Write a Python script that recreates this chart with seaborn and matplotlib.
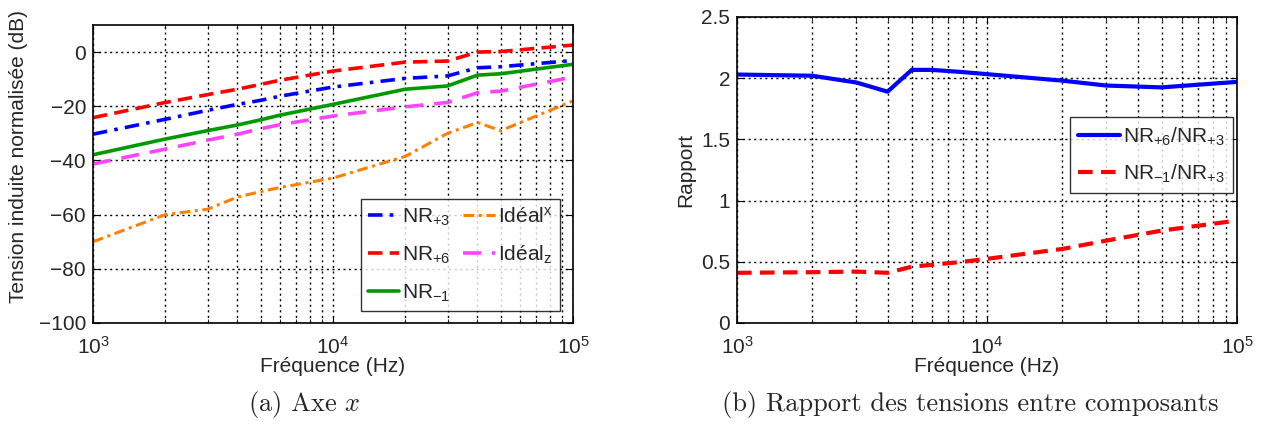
import matplotlib
matplotlib.use("Agg")
import matplotlib.pyplot as plt
import matplotlib.ticker as mticker
import seaborn as sns

# Data
freq = [1e3, 2e3, 3e3, 4e3, 5e3, 6e3, 1e4, 2e4, 3e4, 4e4, 5e4, 1e5]
nr_p3 = [-30.3, -24.8, -21.5, -19.3, -17.8, -16.3, -12.9, -9.7, -8.8, -5.8, -5.4, -3.1]
nr_p6 = [-24.2, -18.6, -15.7, -13.7, -11.9, -10.4, -7.0, -3.7, -3.3, 0.0, 0.2, 2.6]
nr_m1 = [-37.9, -32.1, -29.0, -26.9, -25.0, -23.3, -19.3, -13.7, -12.5, -8.5, -8.0, -4.5]
ideal_z = [-41.3, -35.8, -32.5, -30.3, -28.3, -26.8, -23.6, -20.2, -18.6, -15.0, -14.4, -9.2]
ideal_x = [-70.0, -60.0, -58.0, -53.5, -51.5, -50.0, -46.5, -38.5, -30.0, -26.0, -29.0, -18.0]

freq_r = [1e3, 2e3, 3e3, 4e3, 5e3, 6e3, 8e3, 1e4, 2e4, 3e4, 5e4, 1e5]
ratio_p6_p3 = [2.03, 2.02, 1.965, 1.89, 2.068, 2.068, 2.05, 2.033, 1.98, 1.94, 1.925, 1.97]
ratio_m1_p3 = [0.41, 0.415, 0.42, 0.41, 0.46, 0.475, 0.50, 0.524, 0.605, 0.673, 0.755, 0.837]

sns.set_style("ticks")
plt.rcParams['font.family'] = ['Liberation Sans', 'DejaVu Sans']
plt.rcParams['mathtext.fontset'] = 'custom'
plt.rcParams['mathtext.rm'] = 'Liberation Sans'
plt.rcParams['mathtext.it'] = 'Liberation Sans:italic'
plt.rcParams['mathtext.bf'] = 'Liberation Sans:bold'
plt.rcParams['font.size'] = 15

fig = plt.figure(figsize=(12.64, 4.25), dpi=100)
ax1 = fig.add_axes([93 / 1264, 1 - 323 / 425, 480 / 1264, 298 / 425])
ax2 = fig.add_axes([737 / 1264, 1 - 323 / 425, 500 / 1264, 306 / 425])


def style_axis(ax):
    ax.set_xscale('log')
    ax.set_xlim(1e3, 1e5)
    ax.xaxis.set_major_locator(mticker.LogLocator(base=10))
    ax.xaxis.set_minor_locator(mticker.LogLocator(base=10, subs=range(2, 10)))
    ax.xaxis.set_minor_formatter(mticker.NullFormatter())
    ax.grid(True, which='major', axis='both', color='black', linestyle=(0, (1.5, 2.5)), linewidth=1.0)
    ax.grid(True, which='minor', axis='x', color='black', linestyle=(0, (1.5, 2.5)), linewidth=1.0)
    ax.tick_params(which='both', direction='in', top=True, right=True, labelsize=15, color='black')
    ax.tick_params(which='major', length=5)
    ax.tick_params(which='minor', length=3)
    ax.tick_params(axis='x', which='major', pad=9)
    ax.tick_params(axis='y', which='major', pad=5)
    for s in ax.spines.values():
        s.set_color('black')
        s.set_linewidth(1.2)
    ax.set_xlabel('Fréquence (Hz)', fontsize=15, labelpad=0)


# (a) left panel
sns.lineplot(x=freq, y=nr_p3, ax=ax1, color='#0000ff', linewidth=2.6,
             linestyle=(0, (4, 2, 1, 2)), label=r'NR$_{+3}$')
sns.lineplot(x=freq, y=nr_p6, ax=ax1, color='#ff0000', linewidth=2.6,
             linestyle=(0, (4, 2)), label=r'NR$_{+6}$')
sns.lineplot(x=freq, y=nr_m1, ax=ax1, color='#009900', linewidth=2.6,
             linestyle='-', label=r'NR$_{-1}$')
sns.lineplot(x=freq, y=ideal_x, ax=ax1, color='#ff8000', linewidth=2.2,
             linestyle=(0, (3.5, 1.5, 1, 1.5)), label=r'Idéal$^{\mathrm{x}}$')
sns.lineplot(x=freq, y=ideal_z, ax=ax1, color='#ff44ff', linewidth=2.6,
             linestyle=(0, (5, 3)), label=r'Idéal$_{\mathrm{z}}$')

style_axis(ax1)
ax1.set_ylim(-100, 10)
ax1.set_yticks([-100, -80, -60, -40, -20, 0])
ax1.set_ylabel('Tension induite normalisée (dB)', fontsize=15)
ax1.yaxis.set_label_coords(-0.135, 0.56)
leg1 = ax1.legend(ncol=2, loc='lower right', bbox_to_anchor=(0.972, 0.04), borderaxespad=0,
                  fontsize=15, frameon=True, fancybox=False, edgecolor='black',
                  handlelength=1.5, handletextpad=0.15, columnspacing=0.6,
                  labelspacing=0.8, borderpad=0.35)
leg1.get_frame().set_linewidth(1.0)

# (b) right panel
sns.lineplot(x=freq_r, y=ratio_p6_p3, ax=ax2, color='#0000ff', linewidth=3.0,
             linestyle='-', label=r'NR$_{+6}$/NR$_{+3}$')
sns.lineplot(x=freq_r, y=ratio_m1_p3, ax=ax2, color='#ff0000', linewidth=3.0,
             linestyle=(0, (3.5, 2)), label=r'NR$_{-1}$/NR$_{+3}$')

style_axis(ax2)
ax2.set_ylim(0, 2.5)
ax2.set_yticks([0, 0.5, 1, 1.5, 2, 2.5])
ax2.set_yticklabels(['0', '0.5', '1', '1.5', '2', '2.5'])
ax2.set_ylabel('Rapport', fontsize=15, labelpad=4)
leg2 = ax2.legend(loc='upper right', bbox_to_anchor=(0.992, 0.673), borderaxespad=0,
                  fontsize=15, frameon=True, fancybox=False, edgecolor='black',
                  handlelength=2.0, handletextpad=0.15, labelspacing=0.7, borderpad=0.4)
leg2.get_frame().set_linewidth(1.0)

# captions
fig.text(304 / 1264, 1 - 405 / 425, r'(a) Axe $x$', ha='center', va='center',
         fontsize=19, family='cmr10', math_fontfamily='cm')
fig.text(970 / 1264, 1 - 405 / 425, '(b) Rapport des tensions entre composants',
         ha='center', va='center', fontsize=19, family='cmr10')

fig.savefig('out.png', dpi=100)
